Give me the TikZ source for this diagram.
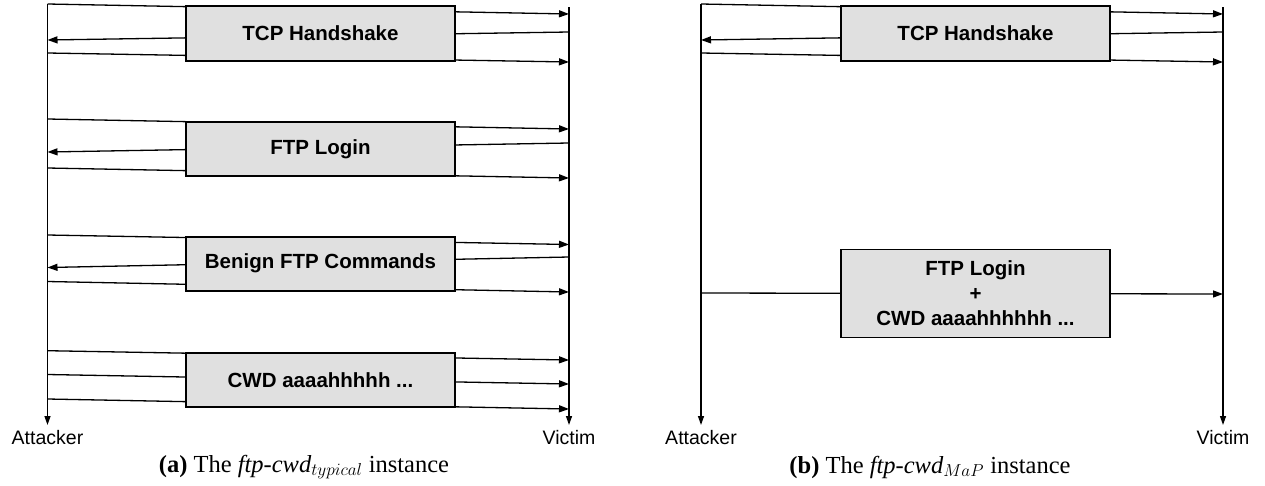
\documentclass[tikz,border=0pt]{standalone}
\usepackage{fontspec}
\setmainfont{Liberation Serif}
\setsansfont{Liberation Sans}
\usetikzlibrary{arrows.meta}
\begin{document}
\begin{tikzpicture}[x=1pt,y=-1pt,
  life/.style={line width=1.3pt,-{Triangle[length=9pt,width=6pt]}},
  msg/.style={line width=1.3pt,-{Triangle[length=10pt,width=7pt]}},
  phase/.style={draw,line width=1.8pt,fill=black!12,minimum width=269pt,minimum height=54pt,inner sep=0pt,
    font=\sffamily\bfseries\fontsize{20.5}{25}\selectfont,align=center},
  who/.style={anchor=north,inner sep=0pt,font=\sffamily\fontsize{19.5}{22}\selectfont},
  captext/.style={inner sep=0pt,font=\fontsize{24.5}{28}\selectfont}]
\useasboundingbox (0,0) rectangle (1265,485);
% lifelines, panel (a)
\coordinate (A1t) at (47.5,4);  \coordinate (A1b) at (47.5,425);
\coordinate (V1t) at (569,7);   \coordinate (V1b) at (569,425);
\draw[life] (A1t) -- (A1b);
\draw[life] (V1t) -- (V1b);
% lifelines, panel (b)
\coordinate (A2t) at (701,4);   \coordinate (A2b) at (701,425);
\coordinate (V2t) at (1223,7);  \coordinate (V2b) at (1223,425);
\draw[life] (A2t) -- (A2b);
\draw[life] (V2t) -- (V2b);
% messages, panel (a): attacker -> victim
\foreach \i/\ya/\yv in {1/4/14,2/53/62,3/119/129,4/168/178,5/235/244.5,6/281.5/292,7/350.7/360,8/374.5/384,9/399/409}{
  \coordinate (ra\i) at (47.5,\ya);
  \coordinate (rv\i) at (569,\yv);
  \draw[msg] (ra\i) -- (rv\i);
}
% messages, panel (a): victim -> attacker
\foreach \i/\yv/\ya in {1/32/40,2/143/152,3/257/267.5}{
  \coordinate (lv\i) at (569,\yv);
  \coordinate (la\i) at (47.5,\ya);
  \draw[msg] (lv\i) -- (la\i);
}
% messages, panel (b)
\foreach \i/\ya/\yv in {1/4/14,2/53/62,3/293/294}{
  \coordinate (sa\i) at (701,\ya);
  \coordinate (sv\i) at (1223,\yv);
  \draw[msg] (sa\i) -- (sv\i);
}
\coordinate (tv1) at (1223,32);
\coordinate (ta1) at (701,40);
\draw[msg] (tv1) -- (ta1);
% phase boxes
\node[phase,minimum height=55pt] (tcpA) at (320.5,33.5) {TCP Handshake};
\node[phase] (loginA) at (320.5,149) {FTP Login};
\node[phase] (benignA) at (320.5,263.7) {Benign FTP Commands};
\node[phase] (cwdA) at (320.5,379.7) {CWD aaaahhhhh ...};
\node[phase,minimum height=55pt] (tcpB) at (975.5,33.5) {TCP Handshake};
\node[phase,minimum height=88pt] (loginB) at (975.5,293.5) {FTP Login\\+\\CWD aaaahhhhhh ...};
% end labels
\node[who] (attA) at (47.5,430) {Attacker};
\node[who] (vicA) at (569,430) {Victim};
\node[who] (attB) at (701,430) {Attacker};
\node[who] (vicB) at (1223,430) {Victim};
% captions
\node[captext] (capA) at (304,467) {\textbf{(a)} The \textit{ftp-cwd}$_{typical}$ instance};
\node[captext] (capB) at (930,467) {\textbf{(b)} The \textit{ftp-cwd}$_{MaP}$ instance};
\end{tikzpicture}
\end{document}
